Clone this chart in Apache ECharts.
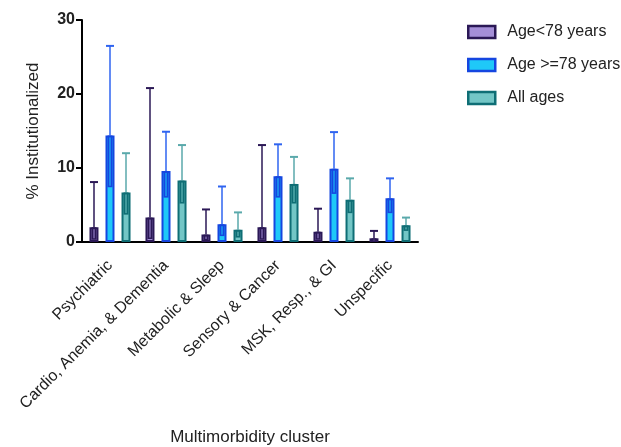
<!DOCTYPE html>
<html><head><meta charset="utf-8">
<script src="https://cdn.jsdelivr.net/npm/echarts@6/dist/echarts.min.js"></script>
<style>html,body{margin:0;padding:0;background:#fff}#c{width:621px;height:447px}</style>
</head><body><div id="c"></div>
<script>
const categories = ['Psychiatric','Cardio, Anemia, & Dementia','Metabolic & Sleep','Sensory & Cancer','MSK, Resp., & GI','Unspecific'];
const seriesNames = ['Age<78 years','Age >=78 years','All ages'];
const youngVal = [2.0, 3.3, 1.0, 2.0, 1.4, 0.5];
const youngLow = [0.3, 0.4, 0.2, 0.3, 0.3, 0.1];
const youngHigh = [8.1, 20.8, 4.4, 13.1, 4.5, 1.5];
const oldVal = [14.4, 9.6, 2.4, 8.9, 9.9, 5.9];
const oldLow = [7.4, 6.0, 0.8, 6.0, 6.5, 3.9];
const oldHigh = [26.5, 14.9, 7.5, 13.2, 14.85, 8.6];
const allVal = [6.7, 8.3, 1.65, 7.85, 5.7, 2.25];
const allLow = [3.7, 5.2, 0.6, 5.2, 3.9, 1.5];
const allHigh = [12.0, 13.1, 4.0, 11.5, 8.6, 3.3];
const yTicks = {min: 0, max: 30, interval: 10};

const vals = [youngVal, oldVal, allVal];
const lows = [youngLow, oldLow, allLow];
const highs = [youngHigh, oldHigh, allHigh];
const fills = ['#a58fd8', '#1fc8f8', '#73c6c6'];
const borders = ['#2b1856', '#1546e0', '#0f6e75'];
const whisk = ['#2b1856', '#2f64f0', '#5aa9ab'];

const font = '"Liberation Sans", Arial, sans-serif';

const series = [];
for (let s = 0; s < 3; s++) {
  series.push({
    name: seriesNames[s], type: 'bar', barWidth: 9, barGap: '78%',
    data: vals[s],
    itemStyle: {color: fills[s], borderColor: borders[s], borderWidth: 2},
    emphasis: {disabled: true}, animation: false
  });
}
for (let s = 0; s < 3; s++) {
  series.push({
    type: 'custom', z: 10, animation: false, silent: true,
    data: categories.map((c, i) => [i, vals[s][i], lows[s][i], highs[s][i]]),
    renderItem: function (params, api) {
      const i = api.value(0);
      const off = (s - 1) * 16;
      const v = api.coord([i, api.value(1)]);
      const lo = api.coord([i, api.value(2)]);
      const hi = api.coord([i, api.value(3)]);
      const x = v[0] + off;
      return {
        type: 'group', children: [
          {type: 'line', shape: {x1: x, y1: v[1], x2: x, y2: hi[1]}, style: {stroke: whisk[s], lineWidth: 1.5}},
          {type: 'line', shape: {x1: x - 4, y1: hi[1], x2: x + 4, y2: hi[1]}, style: {stroke: whisk[s], lineWidth: 2}},
          {type: 'rect', shape: {x: x - 2.5, y: v[1], width: 5, height: Math.max(0, lo[1] - v[1])}, style: {fill: borders[s]}},
          {type: 'line', shape: {x1: x, y1: v[1] + 2, x2: x, y2: lo[1] - 1.5}, style: {stroke: fills[s], lineWidth: 1}}
        ]
      };
    }
  });
}

const chart = echarts.init(document.getElementById('c'), null, {renderer: 'canvas'});
chart.setOption({
  animation: false,
  backgroundColor: '#fff',
  grid: {left: 82, right: 203, top: 20, bottom: 204, containLabel: false},
  legend: {
    left: 462, top: 19, orient: 'vertical', itemWidth: 27, itemHeight: 12, itemGap: 17,
    textStyle: {fontFamily: font, fontSize: 16, color: '#222', lineHeight: 16, padding: [0, 0, 0, 7]},
    data: seriesNames.map((n, s) => ({name: n, icon: 'rect', itemStyle: {color: fills[s], borderColor: borders[s], borderWidth: 2.5}})),
    selectedMode: false
  },
  xAxis: {
    type: 'category', data: categories,
    name: 'Multimorbidity cluster', nameLocation: 'middle', nameGap: 187,
    nameTextStyle: {fontFamily: font, fontSize: 17, color: '#222'},
    axisLine: {lineStyle: {color: '#000', width: 2}},
    axisTick: {alignWithLabel: true, length: 6, lineStyle: {color: '#000', width: 2}},
    axisLabel: {rotate: 45, fontFamily: font, fontSize: 16, color: '#222', margin: 21, interval: 0}
  },
  yAxis: {
    type: 'value', min: yTicks.min, max: yTicks.max, interval: yTicks.interval,
    name: '% Institutionalized', nameLocation: 'middle', nameGap: 40,
    nameTextStyle: {fontFamily: font, fontSize: 17, color: '#222'},
    axisLine: {show: true, lineStyle: {color: '#000', width: 2}},
    axisTick: {show: true, length: 6, lineStyle: {color: '#000', width: 2}},
    splitLine: {show: false},
    axisLabel: {fontFamily: font, fontSize: 16, fontWeight: 'bold', color: '#222', margin: 7}
  },
  series: series
});
</script></body></html>
